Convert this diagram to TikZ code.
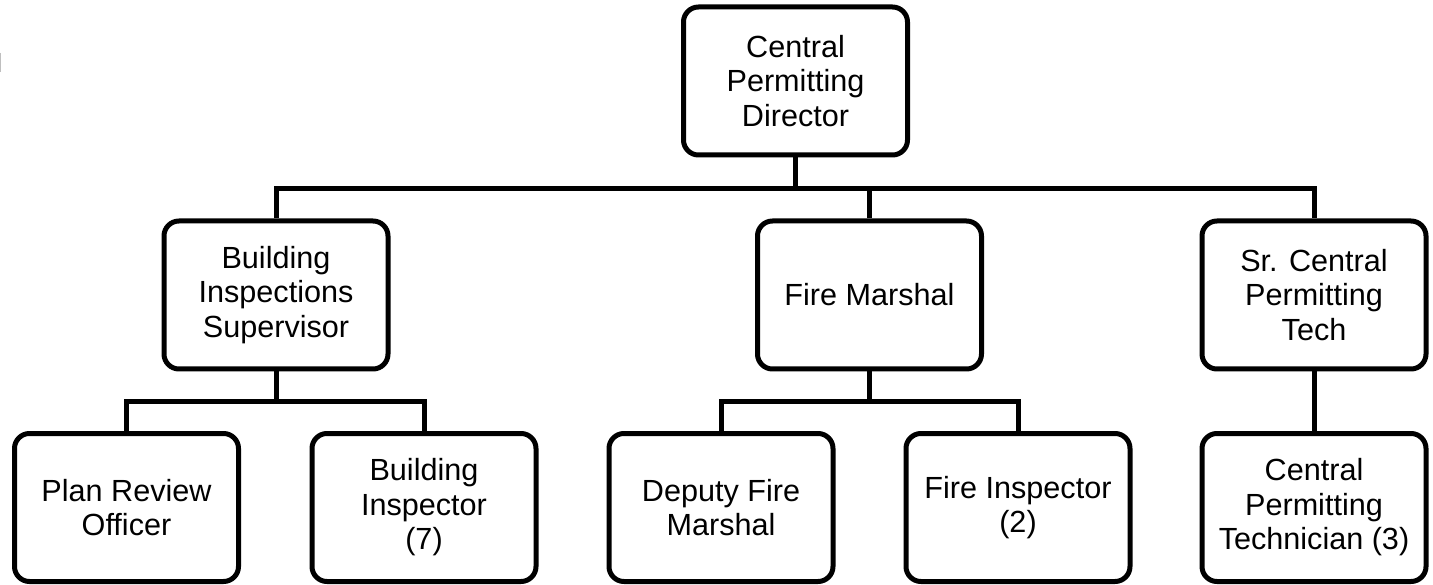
\documentclass[tikz,border=0pt]{standalone}
\usepackage{fontspec}
\setmainfont{Liberation Sans}
\begin{document}
\begin{tikzpicture}[x=1pt,y=1pt,
  orgbox/.style={draw=black, line width=5pt, rounded corners=15pt, fill=white,
    minimum width=224pt, minimum height=148pt, inner sep=0pt, align=center,
    font=\fontsize{30.6}{34.5}\selectfont},
  link/.style={draw=black, line width=5pt, line join=miter}]
\useasboundingbox (0,0) rectangle (1433,-585);
\fill[white] (0,0) rectangle (1433,-585);
\draw[black!25, line width=1pt] (0.5,-53) -- (0.5,-72);

\node[orgbox] (top) at (795.5,-81) {Central\\Permitting\\Director};

\node[orgbox] (sup) at (276,-295) {Building\\Inspections\\Supervisor};
\node[orgbox] (fm)  at (869.5,-295) {Fire Marshal};
\node[orgbox] (sr)  at (1314,-295) {Sr. Central\\Permitting\\Tech};

\node[orgbox] (pro) at (126.5,-507.5) {Plan Review\\Officer};
\node[orgbox] (bi)  at (424,-507.5) {Building\\Inspector\\(7)};
\node[orgbox] (dfm) at (721,-507.5) {Deputy Fire\\Marshal};
\node[orgbox] (fi)  at (1018,-507.5) {Fire Inspector\\(2)};
\node[orgbox] (cpt) at (1314,-507.5) {Central\\Permitting\\Technician (3)};

\coordinate (b1) at (0,-189);
\coordinate (b2) at (0,-401);

\draw[link] (top.south) -- (top.south |- b1);
\draw[link] (sup.north) -- (sup.north |- b1) -- (sr.north |- b1) -- (sr.north);
\draw[link] (fm.north) -- (fm.north |- b1);

\draw[link] (sup.south) -- (sup.south |- b2);
\draw[link] (pro.north) -- (pro.north |- b2) -- (bi.north |- b2) -- (bi.north);

\draw[link] (fm.south) -- (fm.south |- b2);
\draw[link] (dfm.north) -- (dfm.north |- b2) -- (fi.north |- b2) -- (fi.north);

\draw[link] (sr.south) -- (cpt.north);
\end{tikzpicture}
\end{document}
